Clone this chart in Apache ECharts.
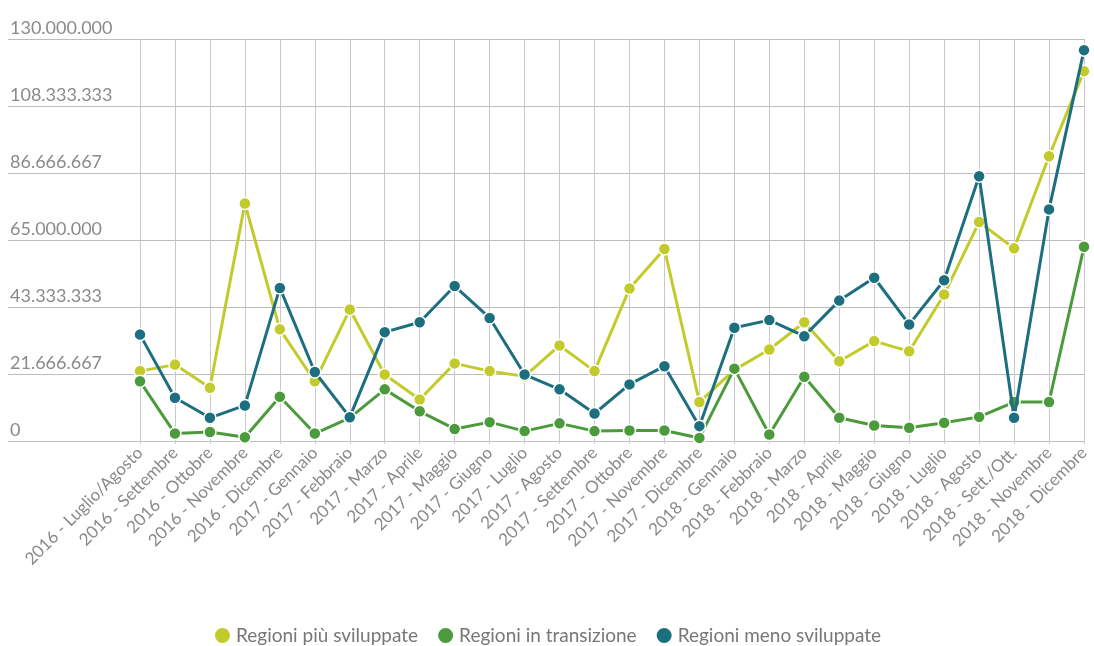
<!DOCTYPE html>
<html>
<head>
<meta charset="utf-8">
<script src="https://cdn.jsdelivr.net/npm/echarts@6/dist/echarts.min.js"></script>
<style>html,body{margin:0;padding:0;background:#fff}#c{width:1094px;height:646px}</style>
</head>
<body>
<div id="c"></div>
<script>
const categories = [
  "2016 - Luglio/Agosto","2016 - Settembre","2016 - Ottobre","2016 - Novembre","2016 - Dicembre",
  "2017 - Gennaio","2017 - Febbraio","2017 - Marzo","2017 - Aprile","2017 - Maggio","2017 - Giugno",
  "2017 - Luglio","2017 - Agosto","2017 - Settembre","2017 - Ottobre","2017 - Novembre","2017 - Dicembre",
  "2018 - Gennaio","2018 - Febbraio","2018 - Marzo","2018 - Aprile","2018 - Maggio","2018 - Giugno",
  "2018 - Luglio","2018 - Agosto","2018 - Sett./Ott.","2018 - Novembre","2018 - Dicembre"
];
const seriesNames = ["Regioni più sviluppate","Regioni in transizione","Regioni meno sviluppate"];
const piuSviluppate = [22600000,24700000,17200000,76800000,36100000,19300000,42500000,21500000,13400000,25100000,22600000,20900000,30900000,22600000,49300000,62100000,12600000,23000000,29600000,38400000,25800000,32300000,29000000,47400000,70800000,62300000,92100000,119600000];
const inTransizione = [19300000,2400000,2900000,1200000,14300000,2400000,7500000,16700000,9600000,3900000,6100000,3200000,5700000,3200000,3400000,3400000,1000000,23400000,2100000,20800000,7500000,5000000,4300000,5900000,7800000,12600000,12600000,62800000];
const menoSviluppate = [34400000,14000000,7500000,11500000,49500000,22300000,7700000,35200000,38400000,50100000,39800000,21500000,16700000,8900000,18300000,24200000,4800000,36600000,39100000,33900000,45400000,52800000,37700000,52000000,85600000,7500000,74900000,126400000];
const yMin = 0, yMax = 130000000, ySteps = 6;

const colors = ['#c3cb2c','#4b9a3c','#1d6f80'];
const fmt = v => Math.round(v).toString().replace(/\B(?=(\d{3})+(?!\d))/g, '.');
const FONT = 'Lato';
const gridTop = 39, gridBottom = 205;

const chart = echarts.init(document.getElementById('c'), null, {renderer:'canvas'});
function mk(name, data, i){
  return {
    name, type:'line', data, xAxisIndex:1, yAxisIndex:1,
    symbol:'circle', symbolSize:12, showSymbol:true,
    lineStyle:{width:3, color:colors[i]},
    itemStyle:{color:colors[i], borderColor:'#ffffff', borderWidth:1.5},
    emphasis:{disabled:true}, animation:false, z:2+i
  };
}
chart.setOption({
  animation:false,
  textStyle:{fontFamily:FONT},
  grid:[
    {left:8, right:10, top:gridTop, bottom:gridBottom},
    {left:140, right:10, top:gridTop, bottom:gridBottom}
  ],
  legend:{
    top:621, left:'center',
    data:seriesNames,
    icon:'circle', itemWidth:17, itemHeight:17, itemGap:18,
    textStyle:{fontFamily:FONT, fontSize:19, color:'#777'}
  },
  xAxis:[
    {type:'category', gridIndex:0, show:false, data:['a']},
    {type:'category', gridIndex:1, data:categories, boundaryGap:false,
     axisLine:{show:false},
     axisTick:{show:true, length:3, lineStyle:{color:'#ccc'}},
     splitLine:{show:true, lineStyle:{color:'#c8c8c8', width:1}},
     axisLabel:{rotate:45, interval:0, fontFamily:FONT, fontSize:17, color:'#8a8a8a', margin:9}
    }
  ],
  yAxis:[
    {type:'value', gridIndex:0, min:yMin, max:yMax, interval:(yMax-yMin)/ySteps,
     axisLine:{show:false}, axisTick:{show:false},
     splitLine:{show:true, lineStyle:{color:'#bdbdbd', width:1}},
     axisLabel:{inside:true, margin:2, verticalAlign:'bottom', padding:[0,0,2,0], formatter:fmt,
       fontFamily:FONT, fontSize:18, color:'#8a8a8a'}
    },
    {type:'value', gridIndex:1, min:yMin, max:yMax, interval:(yMax-yMin)/ySteps, show:false,
     splitLine:{show:false}}
  ],
  series:[
    mk(seriesNames[0], piuSviluppate, 0),
    mk(seriesNames[1], inTransizione, 1),
    mk(seriesNames[2], menoSviluppate, 2)
  ]
});
</script>
</body>
</html>
